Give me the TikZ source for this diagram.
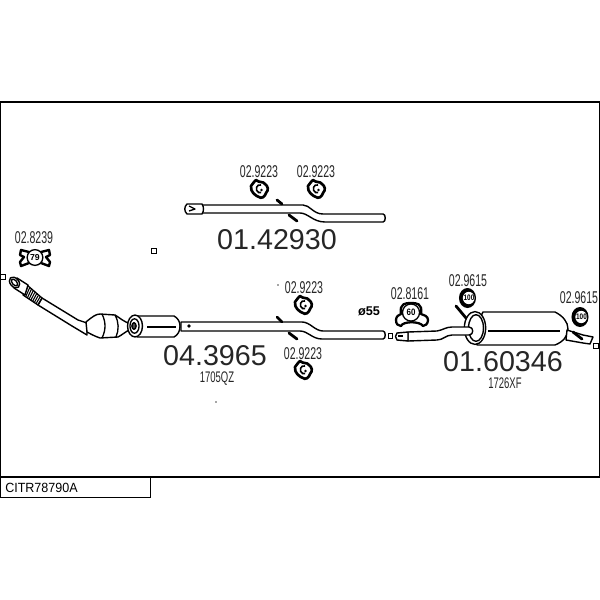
\documentclass[tikz,border=0pt]{standalone}
\usepackage{fontspec}
\setmainfont{Liberation Sans}
\tikzset{
 x=0.75pt,y=-0.75pt,
 line/.style={draw=black,line width=1pt,line join=round},
 thin line/.style={draw=black,line width=0.8pt},
 body/.style={draw=black,fill=white,line width=1.05pt,line join=round},
 bar/.style={draw=black,line width=2.1pt,line cap=round},
 big/.style={font=\fontsize{21.5}{24}\selectfont,text=black!85,inner sep=0pt},
 small/.style={font=\fontsize{12.8}{14}\selectfont,xscale=.62,text=black!85,inner sep=0pt},
 mark box/.style={draw=black,line width=0.8pt,fill=white,minimum size=3.6pt,inner sep=0pt},
 dot/.style={fill=black!70,circle,inner sep=0pt,minimum size=1.2pt}
}
\newcommand{\hanger}[2]{%
 \begin{scope}[shift={(#1,#2)}]
  \draw[line width=2pt,fill=white,line join=round] (-8,-3) .. controls (-6,-5) and (-5,-8) .. (-3,-9) .. controls (0,-6) and (4,-8) .. (6,-5) .. controls (9,-3) and (10,1) .. (7,4) .. controls (6,8) and (2,10) .. (0,8) .. controls (-3,7) and (-9,3) .. (-8,-3) -- cycle;
  \draw[line width=1.2pt] (2,-4) arc[start angle=70,end angle=290,x radius=2.6pt,y radius=3pt];
  \fill (2.5,1) circle[radius=1pt];
 \end{scope}}
\newcommand{\roundhanger}[2]{%
 \begin{scope}[shift={(#1,#2)}]
  \fill (0,0) circle[x radius=6.4pt,y radius=7.5pt];
  \fill[white] (1.2,0) circle[x radius=4.4pt,y radius=4.6pt];
 \end{scope}}
\begin{document}
\begin{tikzpicture}
\useasboundingbox (0,0) rectangle (600,600);
\fill[white] (0,0) rectangle (600,600);
% frame
\draw[line width=1pt] (0,102) rectangle (599.5,477);
\node[draw,line width=1pt,minimum width=112.5pt,minimum height=15pt,anchor=north west,inner sep=0pt] (refbox) at (0,477) {};
\node[anchor=west,inner sep=0pt,font=\fontsize{10}{12}\selectfont,xscale=.94] (reftext) at (5,488) {CITR78790A};
% stray marks
\node[mark box] (m1) at (3,277) {};
\node[mark box] (m2) at (154,251) {};
\node[mark box] (m3) at (596,346) {};
\node[dot] (d1) at (278,285) {};
\node[dot] (d2) at (216,402) {};
% --- upper pipe
\draw[body] (200,205) -- (303,205) .. controls (310,205) and (313,214) .. (323,214) -- (383,214) .. controls (386,214) and (386,222) .. (383,222) -- (325,222) .. controls (313,222) and (308,213) .. (300,213) -- (200,213) -- cycle;
\draw[body] (187,204) -- (202,204) .. controls (204,207) and (204,211) .. (202,214) -- (187,214) .. controls (184,211) and (184,207) .. (187,204) -- cycle;
\draw[line] (189,206) -- (195,209) -- (189,211);
\draw[bar] (277,200) -- (282,204);
\draw[bar] (289,215) -- (297,221);
\hanger{259}{189}
\hanger{316}{189}
\node[small] (l1) at (259,172) {02.9223};
\node[small] (l2) at (316,172) {02.9223};
\node[big] (n1) at (277,240) {01.42930};
% --- clamp 79
\draw[line width=1.8pt,fill=white,line join=round] (21,250) -- (29,252) -- (41,252) -- (49,250) -- (50,255) -- (46,257) -- (50,262) -- (49,266) -- (41,263) -- (29,263) -- (21,266) -- (20,262) -- (24,257) -- (20,255) -- cycle;
\draw[line width=1pt,fill=white] (35,257.5) circle[radius=5.9pt];
\node[font=\fontsize{6.5}{7}\bfseries\selectfont,inner sep=0pt] (t79) at (35,257.5) {79};
\node[small] (l3) at (34,238) {02.8239};
% --- catalytic section
\draw[body] (42,298) -- (78,320) -- (87,323) -- (87,335) -- (72,326) -- (38,305) -- cycle;
\draw[line,fill=white] (27,285) -- (42,298) -- (38,305) -- (23,295) -- cycle;
\foreach \i in {0,1,...,8} {\draw[thin line] ({28+\i*1.7},{286+\i*1.6}) -- ({24+\i*1.7},{295.5+\i*1.2});}
\draw[body] (17,278) -- (28,285) -- (25,295) -- (14,288) -- cycle;
\draw[body,rotate around={40:(14.5,282.5)}] (14.5,282.5) circle[x radius=3.2pt,y radius=4.6pt];
\draw[line,rotate around={40:(14.5,282.5)}] (14.5,282.5) circle[x radius=1.7pt,y radius=3pt];
\draw[body] (86,322) .. controls (92,317) and (96,314) .. (100,314) -- (115,315) .. controls (120,318) and (124,322) .. (131,324) -- (131,329) .. controls (125,332) and (122,335) .. (118,337) -- (100,338) .. controls (94,336) and (89,333) .. (87,332) -- cycle;
\draw[line] (102,314) .. controls (106,322) and (106,330) .. (102,338);
\draw[line] (115,315) .. controls (119,322) and (119,330) .. (116,337);
\draw[body] (137,316) -- (174,316) .. controls (178,318) and (180,322) .. (180,326) .. controls (180,331) and (178,335) .. (174,337) -- (137,337) -- cycle;
\draw[line] (147,327) -- (176,327);
\draw[body] (135,326) circle[x radius=5.6pt,y radius=8.2pt];
\draw[line,fill=white] (134.5,326) circle[x radius=3.4pt,y radius=5.4pt];
\draw[line,fill=black!70] (134,326) circle[x radius=1.6pt,y radius=2.5pt];
% --- middle pipe
\draw[body] (181,322) -- (302,322) .. controls (310,322) and (315,331) .. (323,331) -- (383,331) .. controls (386,331) and (386,339) .. (383,339) -- (322,339) .. controls (312,339) and (308,331) .. (300,331) -- (181,331) -- cycle;
\node[fill=black,circle,inner sep=0pt,minimum size=2.8pt] (rivet) at (189,326) {};
\draw[bar] (277,317) -- (282,322);
\draw[bar] (289,333) -- (297,339);
\hanger{303}{305}
\hanger{303}{370}
\node[small] (l4) at (304,288) {02.9223};
\node[small] (l5) at (303,354) {02.9223};
\node[big] (n2) at (215,355.5) {04.3965};
\node[small,font=\fontsize{11.5}{12}\selectfont] (n2b) at (217,378.5) {1705QZ};
\node[font=\bfseries\fontsize{9.5}{11}\selectfont,inner sep=0pt] (phi) at (369,311) {ø55};
% --- rear section
\node[mark box,minimum size=3.5pt] (m4) at (390.5,336) {};
\draw[body] (483,312) -- (555,312) .. controls (563,316) and (568,322) .. (568,329) .. controls (568,336) and (563,342) .. (555,345) -- (477,345) -- (475,328) -- cycle;
\draw[body] (475,328) circle[x radius=8pt,y radius=12.3pt];
\draw[body] (476,328) circle[x radius=5.6pt,y radius=10pt];
\draw[line] (488,331) -- (560,331);
\draw[body] (408,332) -- (437,331) .. controls (443,330) and (446,327) .. (452,327) -- (469,327) .. controls (474,327) and (474,335) .. (469,335) -- (452,335) .. controls (446,335) and (443,340) .. (437,340) -- (408,341) -- cycle;
\draw[body] (397,333) -- (408,332) -- (408,341) -- (397,340) .. controls (395,338) and (395,335) .. (397,333) -- cycle;
\draw[line] (398,336) -- (403,336);
\draw[bar] (456,306) -- (466,318);
\draw[body] (567,330) -- (583,335) -- (593,337) -- (590,344) -- (583,343) -- (566,340) -- cycle;
\draw[bar] (573,332) -- (582,339);
% clamp 60
\draw[line width=1.7pt,fill=white,line join=round] (396,320) .. controls (396,316) and (399,315) .. (401,314) .. controls (399,303) and (406,303) .. (411,303) .. controls (416,303) and (423,303) .. (421,314) .. controls (424,315) and (428,316) .. (428,320) .. controls (428,324) and (425,326) .. (423,326) .. controls (420,321) and (403,321) .. (401,326) .. controls (398,326) and (396,324) .. (396,320) -- cycle;
\draw[line width=1pt,fill=white] (411,312.5) circle[radius=6.4pt];
\node[font=\fontsize{7}{7}\bfseries\selectfont,xscale=.85,inner sep=0pt] (t60) at (411,312.5) {60};
\node[small] (l6) at (410,294) {02.8161};
% hangers with number
\roundhanger{467.5}{298}
\roundhanger{580}{317}
\node[font=\fontsize{6}{6}\bfseries\selectfont,xscale=.8,inner sep=0pt] (t100a) at (469,298) {100};
\node[font=\fontsize{6}{6}\bfseries\selectfont,xscale=.8,inner sep=0pt] (t100b) at (581.5,317) {100};
\node[small] (l7) at (468,281) {02.9615};
\node[small] (l8) at (579,298) {02.9615};
\node[big] (n3) at (503,362) {01.60346};
\node[small,font=\fontsize{11.5}{12}\selectfont] (n3b) at (505,383) {1726XF};
\end{tikzpicture}
\end{document}
